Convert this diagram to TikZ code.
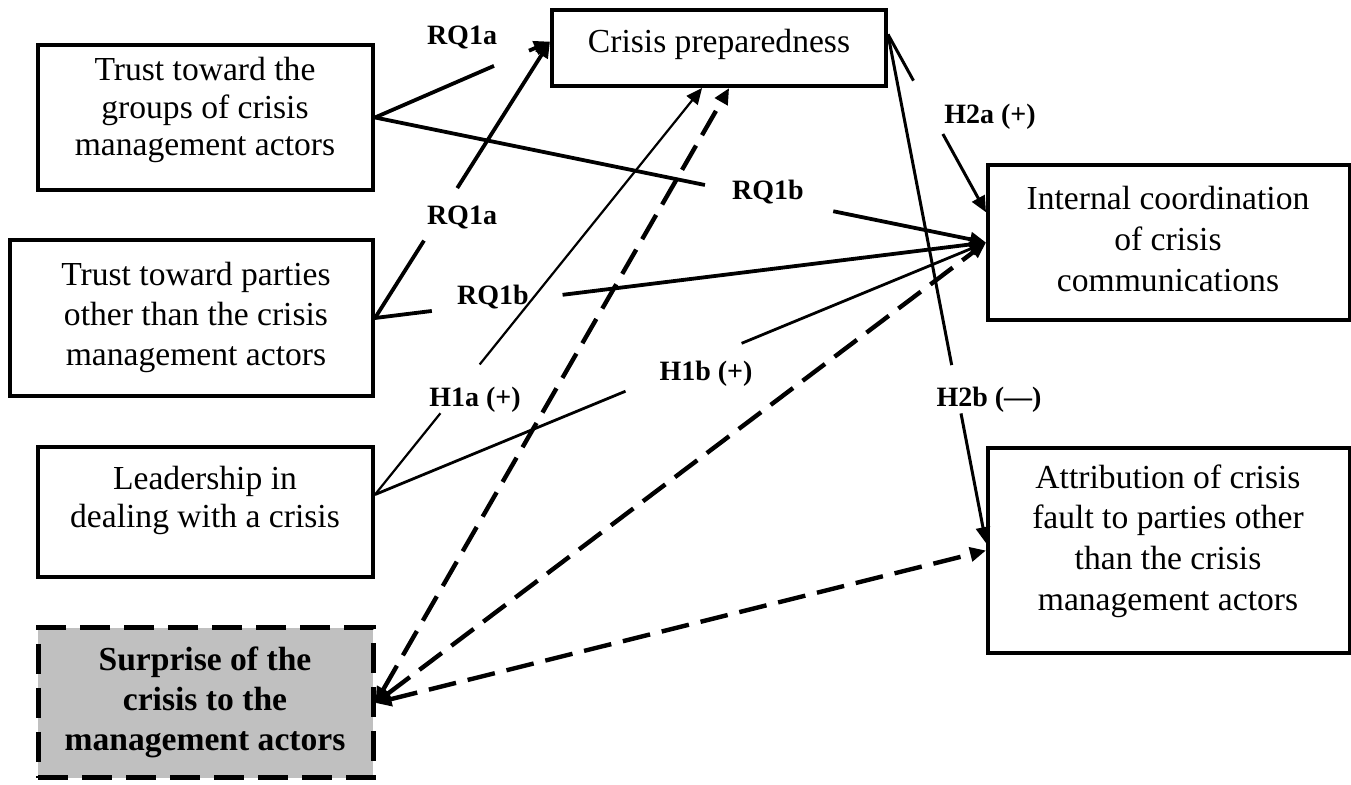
\documentclass[tikz,border=0pt]{standalone}
\usepackage{fontspec}
\setmainfont{Liberation Serif}
\usetikzlibrary{arrows.meta,calc}
\definecolor{sgray}{RGB}{192,192,192}
\begin{document}
\begin{tikzpicture}[x=0.5pt,y=-0.5pt,
  box/.style={draw,line width=2pt,rectangle,inner sep=0pt},
  btext/.style={align=center,font=\fontsize{16.8}{20}\selectfont,inner sep=0pt},
  lab/.style={font=\bfseries\fontsize{14}{16}\selectfont,inner sep=0pt},
  con/.style={line width=1.9pt},
  thin con/.style={line width=1.1pt},
  mid con/.style={line width=1.5pt},
  tip/.style={-{Triangle[length=8pt,width=7pt]}},
  dcon/.style={line width=2.2pt,dash pattern=on 14pt off 6pt,
    {Triangle[length=8pt,width=7pt]}-{Triangle[length=8pt,width=7pt]}},
]
\useasboundingbox (0,0) rectangle (1351,785);

% boxes
\node[box,minimum width=167.5pt,minimum height=72.5pt] (t1) at (205.5,117.5) {};
\node[box,minimum width=181.5pt,minimum height=78pt] (t2) at (191.5,318) {};
\node[box,minimum width=167.5pt,minimum height=65pt] (ld) at (205.5,512) {};
\node[box,fill=sgray,line width=2.5pt,dash pattern=on 15pt off 7pt,
      minimum width=167.5pt,minimum height=75pt] (sp) at (205.5,703) {};
\node[box,minimum width=167pt,minimum height=38pt] (cp) at (719,48) {};
\node[box,minimum width=181pt,minimum height=77.5pt] (ic) at (1169,242.5) {};
\node[box,minimum width=181pt,minimum height=102.5pt] (at) at (1169,550.5) {};

% box texts
\node[btext,font=\fontsize{16.8}{18.8}\selectfont] (t1t) at (205,110) {Trust toward the\\groups of crisis\\management actors};
\node[btext] (t2t) at (196,317) {Trust toward parties\\other than the crisis\\management actors};
\node[btext,font=\fontsize{16.8}{19}\selectfont] (ldt) at (205,500) {Leadership in\\dealing with a crisis};
\node[btext,font=\bfseries\fontsize{16.8}{20}\selectfont] (spt) at (205,702) {Surprise of the\\crisis to the\\management actors};
\node[btext] (cpt) at (719,44) {Crisis preparedness};
\node[btext,font=\fontsize{16.8}{20.5}\selectfont] (ict) at (1168,239) {Internal coordination\\of crisis\\communications};
\node[btext,font=\fontsize{16.8}{20.3}\selectfont] (att) at (1168,541) {Attribution of crisis\\fault to parties other\\than the crisis\\management actors};

% connector end points on the boxes
\coordinate (cpL) at ($(cp.north west)!0.42!(cp.south west)$);
\coordinate (cpB1) at ($(cp.south west)!0.45!(cp.south east)$);
\coordinate (cpB2) at ($(cp.south west)!0.53!(cp.south east)$);
\coordinate (cpR) at ($(cp.north east)!0.33!(cp.south east)$);
\coordinate (icL) at (ic.west);
\coordinate (icH) at ($(ic.north west)!0.31!(ic.south west)$);
\coordinate (atH) at ($(at.north west)!0.465!(at.south west)$);
\coordinate (atL) at (at.west);
\coordinate (ldR) at ($(ld.north east)!0.37!(ld.south east)$);

% RQ1a lines
\draw[con] (t1.east) -- ($(t1.east)!0.68!(cpL)$);
\draw[con,tip] ($(t1.east)!0.88!(cpL)$) -- (cpL);
\draw[con] (t2.east) -- ($(t2.east)!0.28!(cpL)$);
\draw[con,tip] ($(t2.east)!0.47!(cpL)$) -- (cpL);

% RQ1b lines
\draw[con] (t1.east) -- ($(t1.east)!0.54!(icL)$);
\draw[con,tip] ($(t1.east)!0.75!(icL)$) -- (icL);
\draw[con] (t2.east) -- ($(t2.east)!0.093!(icL)$);
\draw[con,tip] ($(t2.east)!0.307!(icL)$) -- (icL);

% H1a, H1b
\draw[thin con] (ldR) -- ($(ldR)!0.2!(cpB1)$);
\draw[thin con,tip] ($(ldR)!0.32!(cpB1)$) -- (cpB1);
\draw[line width=1.4pt] (ldR) -- ($(ldR)!0.41!(icL)$);
\draw[line width=1.4pt,tip] ($(ldR)!0.60!(icL)$) -- (icL);

% H2a, H2b
\draw[mid con] (cpR) -- ($(cpR)!0.26!(icH)$);
\draw[mid con,tip] ($(cpR)!0.56!(icH)$) -- (icH);
\draw[mid con] (cpR) -- ($(cpR)!0.65!(atH)$);
\draw[mid con,tip] ($(cpR)!0.745!(atH)$) -- (atH);

% dashed connectors from surprise
\draw[dcon] (sp.east) -- (cpB2);
\draw[dcon] (sp.east) -- (icL);
\draw[dcon] (sp.east) -- (atL);

% labels
\node[lab] (rq1a1) at (462,38) {RQ1a};
\node[lab] (rq1a2) at (462,218) {RQ1a};
\node[lab] (rq1b1) at (768,192) {RQ1b};
\node[lab] (rq1b2) at (493,297) {RQ1b};
\node[lab] (h1a) at (475,400) {H1a (+)};
\node[lab] (h1b) at (706,374) {H1b (+)};
\node[lab] (h2a) at (990,117) {H2a (+)};
\node[lab] (h2b) at (989,400) {H2b (---)};
\end{tikzpicture}
\end{document}
